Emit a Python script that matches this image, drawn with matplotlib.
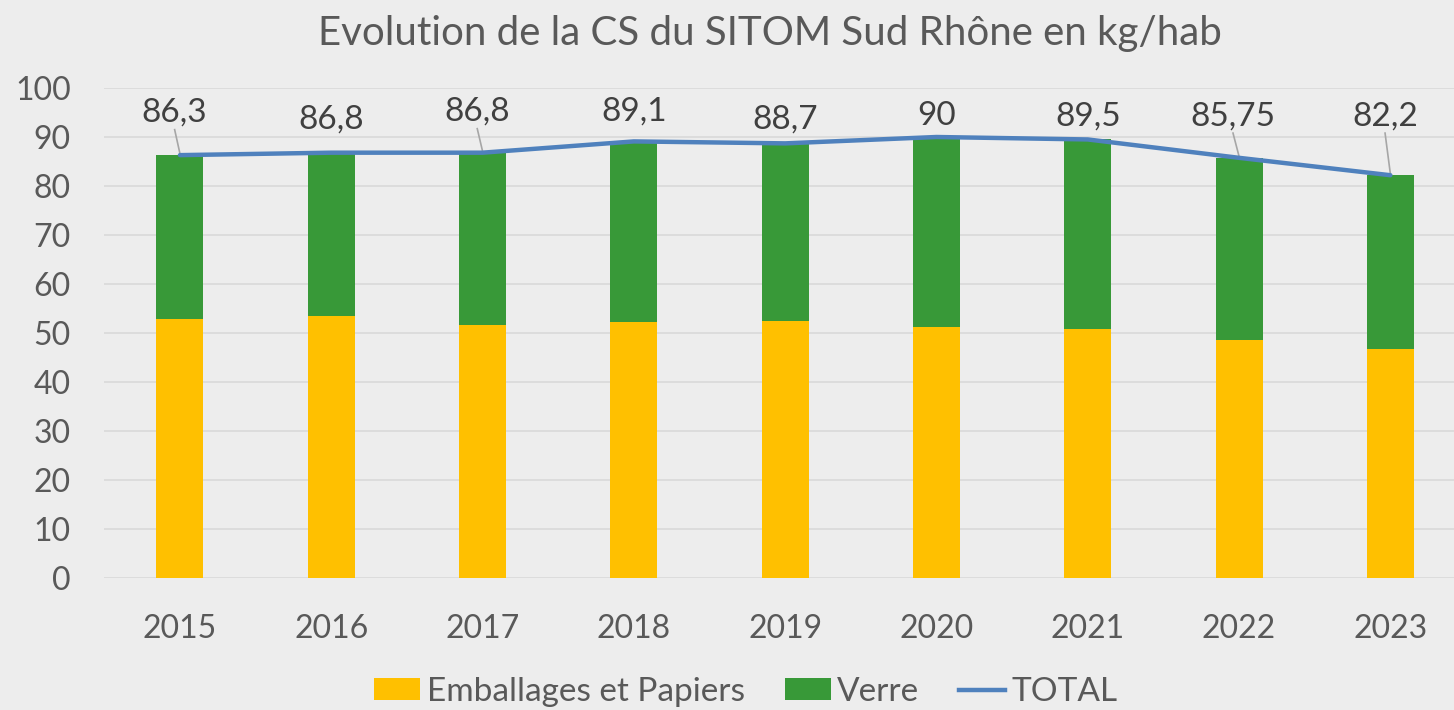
import matplotlib
matplotlib.use("Agg")
import matplotlib.pyplot as plt
from matplotlib.patches import Patch
from matplotlib.lines import Line2D

years = ["2015", "2016", "2017", "2018", "2019", "2020", "2021", "2022", "2023"]
emballages = [52.9, 53.5, 51.6, 52.3, 52.5, 51.2, 50.9, 48.6, 46.7]
total = [86.3, 86.8, 86.8, 89.1, 88.7, 90.0, 89.5, 85.75, 82.2]
total_labels = ["86,3", "86,8", "86,8", "89,1", "88,7", "90", "89,5", "85,75", "82,2"]
verre = [t - e for t, e in zip(total, emballages)]

# label placement (style)
label_y = [94.9, 93.6, 95.1, 95.1, 93.6, 94.2, 94.2, 94.2, 94.2]
label_dx = [-0.035, 0.0, -0.035, 0.0, 0.0, 0.0, 0.0, -0.04, -0.035]
leader = [True, False, True, False, False, False, False, True, True]

plt.rcParams['font.family'] = ['Lato', 'DejaVu Sans']

W, H = 1454, 710
fig = plt.figure(figsize=(W / 100, H / 100), dpi=100)
bg = "#EDEDED"
fig.patch.set_facecolor(bg)

ax = fig.add_axes([104.3 / W, (H - 578) / H, 1361.7 / W, 490 / H])
ax.set_facecolor("none")

x = list(range(len(years)))
bw = 0.31
yellow = "#FFC000"
green = "#389938"
blue = "#4F81BD"

ax.bar(x, emballages, width=bw, color=yellow, zorder=2)
ax.bar(x, verre, width=bw, bottom=emballages, color=green, zorder=2)
ax.plot(x, total, color=blue, lw=3.2, zorder=3, solid_capstyle='round')

for i in x:
    ax.text(i + label_dx[i], label_y[i], total_labels[i], ha="center", va="center",
            fontsize=24, color="#404040", zorder=4)
    if leader[i]:
        ax.plot([i + label_dx[i], i], [label_y[i] - 3.4, total[i] + 0.3],
                color="#A6A6A6", lw=1.2, zorder=2.5)

ax.set_xlim(-0.5, 8.5)
ax.set_ylim(0, 100)
ax.set_yticks(range(0, 101, 10))
ax.set_xticks(x)
ax.set_xticklabels(years)
ax.grid(axis="y", color="#D9D9D9", lw=1.2, zorder=0)
ax.set_axisbelow(True)
for s in ax.spines.values():
    s.set_visible(False)
ax.tick_params(axis="both", length=0, labelsize=23, colors="#595959")
ax.tick_params(axis="y", pad=24)
ax.tick_params(axis="x", pad=26)

fig.text(770 / W, 1 - 33 / H, "Evolution de la CS du SITOM Sud Rhône en kg/hab",
         ha="center", va="center", fontsize=29, color="#595959")

handles = [Patch(facecolor=yellow, edgecolor="none"),
           Patch(facecolor=green, edgecolor="none"),
           Line2D([0], [0], color=blue, lw=3.2)]
leg = fig.legend(handles, ["Emballages et Papiers", "Verre", "TOTAL"],
                 loc="center", bbox_to_anchor=(746 / W, 1 - 692 / H), ncol=3,
                 frameon=False, fontsize=24, handlelength=1.38, handleheight=0.62,
                 handletextpad=0.2, columnspacing=1.2)
for t in leg.get_texts():
    t.set_color("#595959")

fig.savefig("out.png", dpi=100, facecolor=bg)
